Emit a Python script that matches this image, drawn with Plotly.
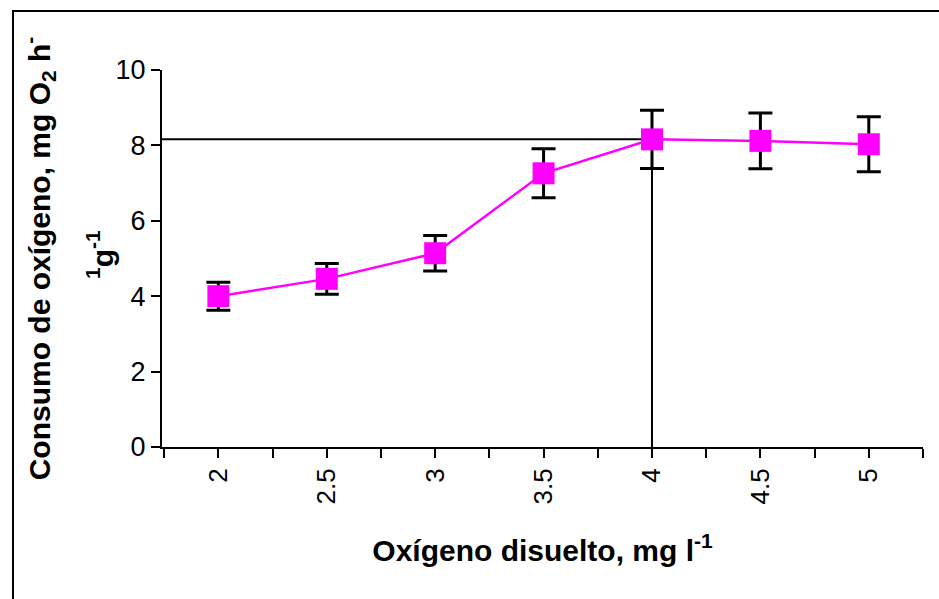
import plotly.graph_objects as go

# Data
oxigeno = [2, 2.5, 3, 3.5, 4, 4.5, 5]
consumo = [4.0, 4.46, 5.14, 7.26, 8.16, 8.12, 8.03]
error = [0.37, 0.41, 0.47, 0.65, 0.77, 0.74, 0.73]
pc_x = 4
pc_y = 8.16
x_ticks = [2, 2.5, 3, 3.5, 4, 4.5, 5]
x_ticklabels = ["2", "2.5", "3", "3.5", "4", "4.5", "5"]
y_ticks = [0, 2, 4, 6, 8, 10]
y_title_1 = "<b>Consumo de oxígeno, mg O<sub>2</sub> h<sup>-</sup></b>"
y_title_2 = "<b><sup>1</sup>g<sup>-1</sup></b>"
x_title = "<b>Oxígeno disuelto, mg l<sup>-1</sup></b>"

W, H = 939, 599
L, R, T, B = 162, 16, 70, 152
pw = W - L - R
ph = H - T - B

fig = go.Figure()
fig.add_trace(go.Scatter(
    x=oxigeno, y=consumo, mode="lines+markers",
    line=dict(color="#ff00ff", width=2.5),
    marker=dict(symbol="square", size=22, color="#ff00ff"),
    error_y=dict(type="data", array=error, visible=True, color="black",
                 thickness=3, width=12),
    showlegend=False,
))

fig.add_shape(type="line", xref="x", yref="y", x0=1.74, x1=pc_x, y0=pc_y, y1=pc_y,
              line=dict(color="black", width=2), layer="below")
fig.add_shape(type="line", xref="x", yref="y", x0=pc_x, x1=pc_x, y0=0, y1=pc_y,
              line=dict(color="black", width=2), layer="below")

# outer frame
fig.add_shape(type="rect", xref="paper", yref="paper",
              x0=(13 - L) / pw, x1=1 + (R + 40) / pw,
              y0=-(B + 40) / ph, y1=1 + (T - 11) / ph,
              line=dict(color="black", width=2), fillcolor="rgba(0,0,0,0)")

fig.add_annotation(x=pc_x + 0.04, y=10.58, xref="x", yref="y", text="Pc",
                   showarrow=False, font=dict(size=27, color="black"))

# second line of the y-axis title (wrapped unit)
fig.add_annotation(x=(100 - L) / pw, y=(H - B - 255) / ph, xref="paper", yref="paper",
                   text=y_title_2, textangle=-90, showarrow=False,
                   xanchor="center", yanchor="middle",
                   font=dict(size=30, color="black"))

fig.update_layout(
    width=W, height=H,
    margin=dict(l=L, r=R, t=T, b=B),
    plot_bgcolor="white", paper_bgcolor="white",
    font=dict(family="Liberation Sans, Arial, sans-serif", color="black"),
    xaxis=dict(
        range=[1.74, 5.25], tickmode="array", tickvals=x_ticks, ticktext=x_ticklabels,
        tickangle=-90, ticks="outside", ticklen=9, tickwidth=2, tickcolor="black",
        minor=dict(dtick=0.25, tick0=1.75, ticks="outside", ticklen=9, tickwidth=2, tickcolor="black"),
        showline=True, linecolor="black", linewidth=2, showgrid=False, zeroline=False,
        tickfont=dict(size=26),
        title=dict(text=x_title, font=dict(size=30), standoff=36),
    ),
    yaxis=dict(
        range=[0, 10], tickmode="array", tickvals=y_ticks,
        ticks="outside", ticklen=9, tickwidth=2, tickcolor="black",
        showline=True, linecolor="black", linewidth=2, showgrid=False, zeroline=False,
        tickfont=dict(size=27),
        title=dict(text=y_title_1, font=dict(size=30), standoff=56),
    ),
)

fig.write_html("out.html")
